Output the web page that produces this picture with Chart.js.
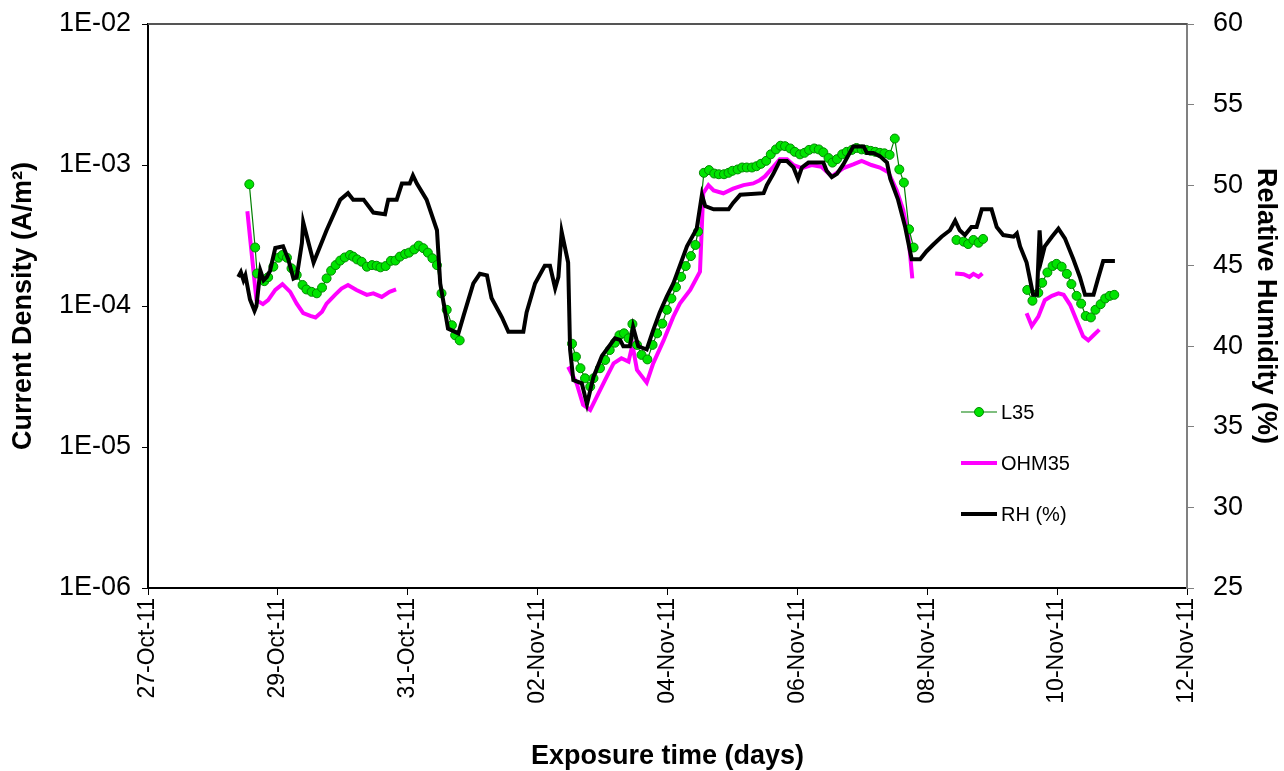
<!DOCTYPE html>
<html>
<head>
<meta charset="utf-8">
<script src="https://cdn.jsdelivr.net/npm/chart.js@4.4.0/dist/chart.umd.min.js"></script>
<style>
  html, body { margin: 0; padding: 0; background: #ffffff; }
  canvas { display: block; }
</style>
</head>
<body>
<canvas id="chart" width="1284" height="771"></canvas>
<script>
// x values are days elapsed since 27-Oct-11 00:00
const dateLabels = ['27-Oct-11', '29-Oct-11', '31-Oct-11', '02-Nov-11', '04-Nov-11',
                    '06-Nov-11', '08-Nov-11', '10-Nov-11', '12-Nov-11'];
const cdTickValues = [1e-6, 1e-5, 1e-4, 1e-3, 1e-2];
const cdTickLabels = ['1E-06', '1E-05', '1E-04', '1E-03', '1E-02'];
const rhTickValues = [25, 30, 35, 40, 45, 50, 55, 60];

// L35 current density (A/m2); null marks a break in the record
const l35 = [
  [1.56,7.3e-4],[1.65,2.6e-4],[1.68,1.7e-4],[1.79,1.5e-4],[1.85,1.6e-4],[1.93,1.9e-4],[2.01,2.2e-4],
  [2.07,2.3e-4],[2.14,2.2e-4],[2.21,1.85e-4],[2.29,1.66e-4],[2.38,1.41e-4],[2.44,1.31e-4],[2.52,1.26e-4],
  [2.60,1.23e-4],[2.68,1.35e-4],[2.75,1.57e-4],[2.82,1.78e-4],[2.89,1.95e-4],[2.96,2.1e-4],[3.03,2.21e-4],
  [3.11,2.3e-4],[3.16,2.24e-4],[3.22,2.14e-4],[3.29,2.06e-4],[3.37,1.9e-4],[3.45,1.95e-4],[3.52,1.93e-4],
  [3.58,1.88e-4],[3.66,1.92e-4],[3.74,2.09e-4],[3.81,2.1e-4],[3.88,2.24e-4],[3.96,2.34e-4],[4.02,2.39e-4],
  [4.10,2.52e-4],[4.17,2.68e-4],[4.24,2.57e-4],[4.31,2.39e-4],[4.38,2.18e-4],[4.45,1.95e-4],[4.52,1.23e-4],
  [4.60,9.4e-5],[4.68,7.3e-5],[4.73,6.2e-5],[4.80,5.7e-5],
  null,
  [6.53,5.4e-5],[6.59,4.37e-5],[6.66,3.62e-5],[6.73,3.07e-5],[6.81,2.68e-5],[6.86,3.07e-5],[6.96,3.62e-5],
  [7.04,4.14e-5],[7.11,4.87e-5],[7.19,5.49e-5],[7.26,6.2e-5],[7.33,6.4e-5],[7.40,5.9e-5],[7.46,7.45e-5],
  [7.53,5.3e-5],[7.60,4.5e-5],[7.69,4.18e-5],[7.77,5.3e-5],[7.84,6.4e-5],[7.92,7.5e-5],[7.99,9.4e-5],
  [8.06,1.13e-4],[8.13,1.36e-4],[8.21,1.61e-4],[8.28,1.92e-4],[8.36,2.26e-4],[8.43,2.71e-4],[8.47,3.37e-4],
  [8.56,8.8e-4],[8.64,9.2e-4],[8.72,8.7e-4],[8.79,8.6e-4],[8.87,8.6e-4],[8.94,8.8e-4],[9.00,9.1e-4],
  [9.08,9.3e-4],[9.15,9.6e-4],[9.22,9.6e-4],[9.30,9.6e-4],[9.37,9.8e-4],[9.44,1.02e-3],[9.52,1.07e-3],
  [9.59,1.19e-3],[9.67,1.29e-3],[9.74,1.37e-3],[9.81,1.36e-3],[9.89,1.31e-3],[9.96,1.24e-3],[10.04,1.19e-3],
  [10.11,1.22e-3],[10.18,1.28e-3],[10.26,1.31e-3],[10.33,1.29e-3],[10.40,1.23e-3],[10.48,1.12e-3],
  [10.54,1.04e-3],[10.61,1.10e-3],[10.69,1.19e-3],[10.76,1.24e-3],[10.84,1.28e-3],[10.91,1.32e-3],
  [10.99,1.29e-3],[11.06,1.28e-3],[11.13,1.26e-3],[11.20,1.24e-3],[11.27,1.22e-3],[11.34,1.21e-3],
  [11.42,1.18e-3],[11.50,1.54e-3],[11.57,9.3e-4],[11.64,7.5e-4],[11.72,3.5e-4],[11.79,2.6e-4],
  null,
  [12.45,2.94e-4],[12.56,2.86e-4],[12.63,2.75e-4],[12.71,2.94e-4],[12.79,2.81e-4],[12.86,2.99e-4],
  null,
  [13.54,1.30e-4],[13.62,1.09e-4],[13.71,1.24e-4],[13.77,1.46e-4],[13.85,1.73e-4],[13.93,1.92e-4],
  [13.99,1.99e-4],[14.07,1.90e-4],[14.15,1.69e-4],[14.22,1.43e-4],[14.30,1.18e-4],[14.37,1.04e-4],
  [14.44,8.5e-5],[14.52,8.3e-5],[14.59,9.4e-5],[14.67,1.03e-4],[14.74,1.13e-4],[14.81,1.18e-4],[14.88,1.20e-4]
];

// OHM35 current density (A/m2)
const ohm35 = [
  [1.53,4.7e-4],[1.67,1.10e-4],[1.77,1.03e-4],[1.85,1.10e-4],[1.96,1.30e-4],[2.07,1.43e-4],[2.19,1.26e-4],
  [2.29,1.04e-4],[2.39,8.9e-5],[2.50,8.5e-5],[2.58,8.3e-5],[2.68,9.1e-5],[2.75,1.04e-4],[2.88,1.20e-4],
  [2.98,1.33e-4],[3.08,1.41e-4],[3.21,1.30e-4],[3.37,1.20e-4],[3.47,1.23e-4],[3.60,1.16e-4],[3.72,1.26e-4],
  [3.82,1.31e-4],
  null,
  [6.47,3.71e-5],[6.60,2.83e-5],[6.70,1.99e-5],[6.81,1.83e-5],[6.91,2.27e-5],[7.04,2.99e-5],[7.17,3.92e-5],
  [7.29,4.26e-5],[7.40,4.03e-5],[7.46,5.3e-5],[7.53,3.52e-5],[7.68,2.86e-5],[7.78,3.92e-5],[7.94,5.7e-5],
  [8.09,8.4e-5],[8.19,1.04e-4],[8.35,1.30e-4],[8.50,1.75e-4],[8.55,6.3e-4],[8.63,7.2e-4],[8.71,6.6e-4],
  [8.86,6.3e-4],[9.01,6.8e-4],[9.17,7.2e-4],[9.32,7.4e-4],[9.42,7.8e-4],[9.50,8.3e-4],[9.63,9.7e-4],
  [9.73,1.10e-3],[9.84,1.10e-3],[9.94,1.00e-3],[10.07,9.5e-4],[10.22,1.00e-3],[10.37,9.7e-4],[10.53,8.3e-4],
  [10.71,9.5e-4],[10.86,1.01e-3],[10.99,1.07e-3],[11.14,1.00e-3],[11.27,9.6e-4],[11.40,8.9e-4],[11.53,6.6e-4],
  [11.63,4.8e-4],[11.71,3.1e-4],[11.77,1.57e-4],
  null,
  [12.43,1.70e-4],[12.56,1.68e-4],[12.65,1.61e-4],[12.71,1.69e-4],[12.79,1.61e-4],[12.85,1.70e-4],
  null,
  [13.53,8.9e-5],[13.61,7.2e-5],[13.71,8.4e-5],[13.81,1.10e-4],[13.92,1.18e-4],[14.02,1.23e-4],[14.10,1.20e-4],
  [14.20,1.02e-4],[14.30,7.9e-5],[14.40,6.1e-5],[14.48,5.7e-5],[14.56,6.2e-5],[14.65,6.8e-5]
];

// Relative humidity (%)
const rh = [
  [1.39,44.3],[1.43,44.6],[1.47,44.1],[1.50,44.4],[1.57,42.9],[1.64,42.2],[1.67,42.5],[1.73,44.7],
  [1.78,44.1],[1.83,44.3],[1.88,44.7],[1.96,46.1],[2.08,46.2],[2.16,45.4],[2.24,44.2],[2.29,44.3],
  [2.37,46.4],[2.39,47.7],[2.55,45.2],[2.75,47.2],[2.96,49.1],[3.08,49.5],[3.16,49.1],[3.32,49.1],
  [3.47,48.3],[3.65,48.2],[3.70,49.1],[3.83,49.1],[3.91,50.1],[4.03,50.1],[4.08,50.6],[4.14,50.1],
  [4.29,49.1],[4.45,47.2],[4.50,43.9],[4.62,41.1],[4.78,40.8],[4.86,41.9],[5.01,43.9],[5.11,44.5],
  [5.22,44.4],[5.29,43.0],[5.45,41.8],[5.55,40.9],[5.78,40.9],[5.83,42.1],[5.96,43.9],[6.11,45.0],
  [6.19,45.0],[6.27,43.6],[6.32,44.3],[6.37,47.1],[6.47,45.2],[6.50,39.8],[6.55,37.9],[6.68,37.7],
  [6.76,36.4],[6.86,38.1],[6.99,39.4],[7.19,40.5],[7.27,40.4],[7.32,40.0],[7.42,40.0],[7.47,41.2],
  [7.55,40.0],[7.68,39.8],[7.78,41.0],[7.88,42.1],[7.99,43.1],[8.09,43.9],[8.30,46.2],[8.45,47.3],
  [8.53,49.4],[8.58,48.7],[8.71,48.5],[8.94,48.5],[9.01,48.9],[9.12,49.4],[9.48,49.5],[9.53,50.0],
  [9.63,50.7],[9.73,51.5],[9.84,51.5],[9.94,51.1],[10.01,50.4],[10.07,51.1],[10.17,51.4],[10.40,51.4],
  [10.45,50.9],[10.53,50.5],[10.61,50.7],[10.71,51.3],[10.86,52.4],[11.02,52.4],[11.07,52.0],[11.17,52.0],
  [11.27,51.8],[11.38,51.4],[11.43,50.4],[11.55,49.1],[11.66,47.4],[11.76,45.4],[11.89,45.4],[11.99,45.9],
  [12.09,46.3],[12.22,46.8],[12.35,47.2],[12.43,47.8],[12.50,47.2],[12.58,46.9],[12.68,47.4],[12.76,47.4],
  [12.84,48.5],[12.99,48.5],[13.07,47.4],[13.17,46.9],[13.33,46.8],[13.38,47.0],[13.43,46.2],[13.53,45.2],
  [13.63,43.2],[13.69,43.2],[13.73,47.2],[13.76,45.4],[13.81,46.2],[13.92,46.8],[14.02,47.3],[14.12,46.7],
  [14.25,45.4],[14.35,44.3],[14.43,43.2],[14.56,43.2],[14.63,44.2],[14.71,45.3],[14.89,45.3]
];

// Turn [day, value] pairs into chart points; a null entry becomes a gap
function toPoints(rows) {
  const pts = [];
  let lastX = 0;
  rows.forEach(r => {
    if (r === null) { pts.push({ x: lastX, y: null }); }
    else { lastX = r[0]; pts.push({ x: r[0], y: r[1] }); }
  });
  return pts;
}

const FONT = '"Liberation Sans", Arial, Helvetica, sans-serif';

// Axes keep a fixed footprint so the plot area lands where intended
function fixBox(size) {
  return function (scale) {
    if (scale.isHorizontal()) { scale.height = size; }
    else { scale.width = size; }
    scale.paddingTop = 0;
    scale.paddingBottom = 0;
    scale.paddingLeft = 0;
    scale.paddingRight = 0;
  };
}

// Top frame line of the plot area
const frameTop = {
  id: 'frameTop',
  afterDatasetsDraw(chart) {
    const { ctx, chartArea } = chart;
    ctx.save();
    ctx.strokeStyle = '#555555';
    ctx.lineWidth = 2;
    ctx.beginPath();
    ctx.moveTo(chartArea.left, chartArea.top);
    ctx.lineTo(chartArea.right, chartArea.top);
    ctx.stroke();
    ctx.restore();
  }
};

// Legend drawn inside the plot, one entry per row
const innerLegend = {
  id: 'innerLegend',
  afterDraw(chart, args, opts) {
    const { ctx } = chart;
    const order = opts.order;
    ctx.save();
    ctx.font = '20px ' + FONT;
    ctx.textBaseline = 'middle';
    ctx.textAlign = 'left';
    order.forEach((dsIndex, row) => {
      const ds = chart.data.datasets[dsIndex];
      const y = opts.top + row * opts.rowGap;
      const x0 = opts.left, x1 = opts.left + opts.sample;
      ctx.strokeStyle = ds.borderColor;
      ctx.lineWidth = ds.borderWidth;
      ctx.lineCap = 'butt';
      ctx.beginPath();
      ctx.moveTo(x0, y);
      ctx.lineTo(x1, y);
      ctx.stroke();
      if (ds.pointRadius > 0) {
        ctx.fillStyle = ds.pointBackgroundColor;
        ctx.strokeStyle = ds.pointBorderColor;
        ctx.lineWidth = ds.pointBorderWidth;
        ctx.beginPath();
        ctx.arc((x0 + x1) / 2, y, ds.pointRadius, 0, Math.PI * 2);
        ctx.fill();
        ctx.stroke();
      }
      ctx.fillStyle = '#000000';
      ctx.fillText(ds.label, x1 + 4, y + 1);
    });
    ctx.restore();
  }
};

new Chart(document.getElementById('chart'), {
  type: 'line',
  data: {
    datasets: [
      {
        label: 'RH (%)',
        data: toPoints(rh),
        yAxisID: 'yRH',
        borderColor: '#000000',
        borderWidth: 4,
        pointRadius: 0,
        tension: 0,
        order: 0
      },
      {
        label: 'L35',
        data: toPoints(l35),
        yAxisID: 'yCD',
        borderColor: '#007f00',
        borderWidth: 1.2,
        pointRadius: 4.5,
        pointBackgroundColor: '#00e400',
        pointBorderColor: '#008a00',
        pointBorderWidth: 1,
        tension: 0,
        spanGaps: false,
        order: 1
      },
      {
        label: 'OHM35',
        data: toPoints(ohm35),
        yAxisID: 'yCD',
        borderColor: '#ff00ff',
        borderWidth: 4,
        pointRadius: 0,
        tension: 0,
        spanGaps: false,
        order: 2
      }
    ]
  },
  options: {
    responsive: false,
    animation: false,
    devicePixelRatio: 1,
    layout: { padding: { top: 24, left: 0, right: 0, bottom: 0 } },
    plugins: {
      legend: { display: false },
      tooltip: { enabled: false },
      innerLegend: { order: [1, 2, 0], left: 961, top: 412, rowGap: 51, sample: 36 }
    },
    scales: {
      x: {
        type: 'linear',
        position: 'bottom',
        min: 0,
        max: 16,
        afterBuildTicks(scale) {
          scale.ticks = dateLabels.map((_, i) => ({ value: i * 2 }));
        },
        afterFit: fixBox(183),
        ticks: {
          autoSkip: false,
          maxRotation: 90,
          minRotation: 90,
          padding: 3,
          color: '#000000',
          font: { family: FONT, size: 23 },
          callback: (v, i) => dateLabels[i]
        },
        grid: { drawOnChartArea: false, drawTicks: true, tickLength: 7, color: '#000000', lineWidth: 1 },
        border: { display: true, color: '#000000', width: 2 },
        title: {
          display: true,
          text: 'Exposure time (days)',
          color: '#000000',
          font: { family: FONT, size: 27, weight: 'bold', lineHeight: 1 },
          padding: { top: 0, bottom: 1 }
        }
      },
      yCD: {
        type: 'logarithmic',
        position: 'left',
        min: 1e-6,
        max: 1e-2,
        afterBuildTicks(scale) {
          scale.ticks = cdTickValues.map(v => ({ value: v }));
        },
        afterFit: fixBox(148),
        ticks: {
          padding: 11,
          color: '#000000',
          font: { family: FONT, size: 27 },
          callback: (v, i) => cdTickLabels[i]
        },
        grid: { drawOnChartArea: false, drawTicks: true, tickLength: 6, color: '#000000', lineWidth: 1 },
        border: { display: true, color: '#000000', width: 2 },
        title: {
          display: true,
          text: 'Current Density (A/m²)',
          color: '#000000',
          font: { family: FONT, size: 27, weight: 'bold', lineHeight: 1 },
          padding: { top: 10, bottom: 0 }
        }
      },
      yRH: {
        type: 'linear',
        position: 'right',
        min: 25,
        max: 60,
        afterBuildTicks(scale) {
          scale.ticks = rhTickValues.map(v => ({ value: v }));
        },
        afterFit: fixBox(97),
        ticks: {
          padding: 19,
          color: '#000000',
          font: { family: FONT, size: 27 },
          callback: v => String(v)
        },
        grid: { drawOnChartArea: false, drawTicks: true, tickLength: 7, color: '#808080', lineWidth: 1 },
        border: { display: true, color: '#808080', width: 2 },
        title: {
          display: true,
          text: 'Relative Humidity (%)',
          color: '#000000',
          font: { family: FONT, size: 27, weight: 'bold', lineHeight: 1 },
          padding: { top: 5, bottom: 0 }
        }
      }
    }
  },
  plugins: [frameTop, innerLegend]
});
</script>
</body>
</html>
